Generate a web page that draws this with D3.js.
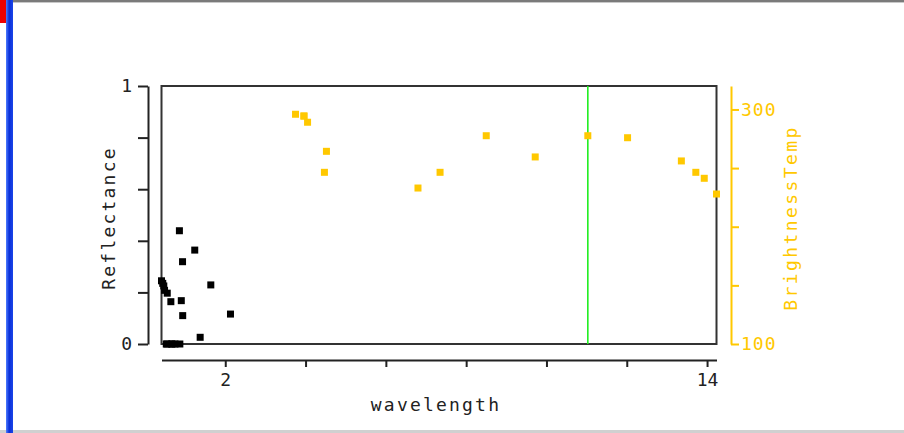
<!DOCTYPE html>
<html>
<head>
<meta charset="utf-8">
<script src="https://cdn.jsdelivr.net/npm/d3@7/dist/d3.min.js"></script>
<style>
  html, body { margin: 0; padding: 0; background: #fff; }
  svg { display: block; }
  text { font-family: "DejaVu Sans Mono", "Liberation Mono", monospace; }
</style>
</head>
<body>
<svg id="chart" width="904" height="433"></svg>
<script>
// ---- data ----
const reflWavelength = [0.412, 0.443, 0.469, 0.488, 0.531, 0.551, 0.555, 0.645, 0.667, 0.678,
                        0.748, 0.858, 0.869, 0.905, 0.936, 0.940, 1.24, 1.375, 1.64, 2.13];
const reflectance    = [0.245, 0.235, 0.225, 0.208, 0, 0, 0.197, 0.164, 0, 0,
                        0, 0.439, 0, 0.168, 0.319, 0.11, 0.364, 0.026, 0.229, 0.116];
const tempWavelength = [3.75, 3.96, 3.96, 4.05, 4.47, 4.52, 6.8, 7.35, 8.5, 9.72,
                        11.03, 12.02, 13.36, 13.72, 13.93, 14.235];
const brightnessTemp = [295.9, 294.4, 294.4, 289.1, 246.4, 264.3, 233.0, 246.4, 277.6, 259.5,
                        277.6, 275.9, 256.1, 246.4, 241.3, 227.9];
const markerWavelength = [11.03];
const xTicks = [2, 4, 6, 8, 10, 12, 14];
const xTickLabels = {2: "2", 14: "14"};
const leftTicks = [0, 0.2, 0.4, 0.6, 0.8, 1];
const leftTickLabels = {0: "0", 1: "1"};
const rightTicks = [100, 150, 200, 250, 300];
const rightTickLabels = {100: "100", 300: "300"};
const leftDomain = [0, 1];
const rightDomain = [100, 320];

const svg = d3.select("#chart");
const yellow = "#ffc800";
const ink = "#222";

// ---- page decoration ----
svg.append("rect").attr("x", 0).attr("y", 0).attr("width", 904).attr("height", 2).attr("fill", "#7a7a7a");
svg.append("rect").attr("x", 0).attr("y", 2).attr("width", 904).attr("height", 1).attr("fill", "#c8c8c8");
svg.append("rect").attr("x", 0).attr("y", 430).attr("width", 904).attr("height", 3).attr("fill", "#d0d0d0");
svg.append("rect").attr("x", 0).attr("y", 0).attr("width", 6).attr("height", 23).attr("fill", "#ee0000");
const grad = svg.append("defs").append("linearGradient").attr("id", "bluebar").attr("x1", "0").attr("x2", "1");
grad.append("stop").attr("offset", "0").attr("stop-color", "#4f7dff");
grad.append("stop").attr("offset", "0.45").attr("stop-color", "#0a2fd8");
grad.append("stop").attr("offset", "1").attr("stop-color", "#1a44e8");
svg.append("rect").attr("x", 6).attr("y", 0).attr("width", 7).attr("height", 433).attr("fill", "url(#bluebar)");

// ---- scales ----
const allX = reflWavelength.concat(tempWavelength);
const x = d3.scaleLinear().domain(d3.extent(allX)).range([161.5, 716.5]);
const yL = d3.scaleLinear().domain(leftDomain).range([344, 86]);
const yR = d3.scaleLinear().domain(rightDomain).range([344, 86]);

// ---- frame ----
svg.append("rect").attr("x", 161.5).attr("y", 86).attr("width", 555).attr("height", 258)
  .attr("fill", "none").attr("stroke", "#333").attr("stroke-width", 2);

// ---- green marker ----
svg.selectAll(".marker").data(markerWavelength).enter().append("line")
  .attr("x1", d => x(d)).attr("x2", d => x(d)).attr("y1", 86).attr("y2", 344)
  .attr("stroke", "#22ee22").attr("stroke-width", 1.6);

// ---- axes ----
const fontSize = "18px";
const gL = svg.append("g").attr("transform", "translate(148,0)")
  .call(d3.axisLeft(yL).tickValues(leftTicks).tickSize(10).tickSizeOuter(0).tickPadding(6)
        .tickFormat(d => leftTickLabels[d] || ""));
gL.selectAll("path, line").attr("stroke", ink).attr("stroke-width", 2);
gL.selectAll("text").attr("fill", ink).style("font-size", fontSize).style("font-family", "DejaVu Sans Mono");

const gR = svg.append("g").attr("transform", "translate(731,0)")
  .call(d3.axisRight(yR).tickValues(rightTicks).tickSize(8).tickSizeOuter(0).tickPadding(2)
        .tickFormat(d => rightTickLabels[d] || ""));
gR.selectAll("path, line").attr("stroke", yellow).attr("stroke-width", 2);
gR.selectAll("text").attr("fill", yellow).style("font-size", fontSize).style("font-family", "DejaVu Sans Mono")
  .attr("letter-spacing", "1px");

const gX = svg.append("g").attr("transform", "translate(0,360)")
  .call(d3.axisBottom(x).tickValues(xTicks).tickSize(7).tickSizeOuter(0).tickPadding(6)
        .tickFormat(d => xTickLabels[d] || ""));
gX.selectAll("path, line").attr("stroke", ink).attr("stroke-width", 2);
gX.selectAll("text").attr("fill", ink).style("font-size", fontSize).style("font-family", "DejaVu Sans Mono");

// ---- axis titles ----
svg.append("text").attr("x", 436).attr("y", 411).attr("text-anchor", "middle")
  .attr("fill", ink).style("font-size", fontSize).attr("letter-spacing", "2.2px").text("wavelength");
svg.append("text").attr("transform", "translate(115,218) rotate(-90)").attr("text-anchor", "middle")
  .attr("fill", ink).style("font-size", fontSize).attr("letter-spacing", "2.2px").text("Reflectance");
svg.append("text").attr("transform", "translate(797,218) rotate(-90)").attr("text-anchor", "middle")
  .attr("fill", yellow).style("font-size", fontSize).attr("letter-spacing", "2.4px").text("BrightnessTemp");

// ---- points ----
const s = 7;
svg.selectAll(".refl").data(reflWavelength.map((w, i) => [w, reflectance[i]])).enter().append("rect")
  .attr("x", d => x(d[0]) - s / 2).attr("y", d => yL(d[1]) - s / 2)
  .attr("width", s).attr("height", s).attr("fill", "#000");
svg.selectAll(".temp").data(tempWavelength.map((w, i) => [w, brightnessTemp[i]])).enter().append("rect")
  .attr("x", d => x(d[0]) - s / 2).attr("y", d => yR(d[1]) - s / 2)
  .attr("width", s).attr("height", s).attr("fill", yellow);
</script>
</body>
</html>
